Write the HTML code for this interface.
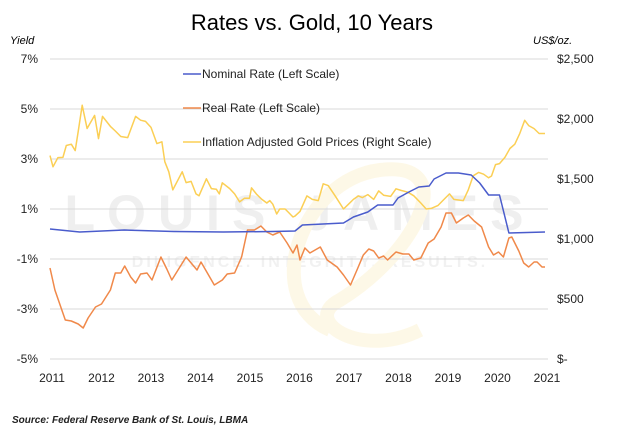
<!DOCTYPE html>
<html><head><meta charset="utf-8"><style>
body{margin:0;background:#fff;}
svg{display:block;font-family:"Liberation Sans",sans-serif;}
</style></head><body>
<svg id="c" width="624" height="435" viewBox="0 0 624 435">
<text x="312" y="30" text-anchor="middle" font-size="22" fill="#000">Rates vs. Gold, 10 Years</text>
<text x="10" y="44" font-size="11" font-style="italic" fill="#000">Yield</text>
<text x="533" y="44" font-size="11" font-style="italic" fill="#000">US$/oz.</text>
<g opacity="0.5">
<text x="300" y="230" text-anchor="middle" font-size="50" font-weight="bold" fill="#e0e0e0" letter-spacing="12">LOUIS JAMES</text>
<text x="310" y="267" text-anchor="middle" font-size="16" font-weight="bold" fill="#e4e4e4" letter-spacing="3">DILIGENCE. INTEGRITY. RESULTS.</text>
<path d="M330,330 C260,300 300,180 380,170 C460,160 420,250 340,300 C300,320 360,360 420,330" fill="none" stroke="#fdf3d0" stroke-width="14"/>
</g>
<g id="grid"></g>
<g id="axes"></g>
<g id="series"></g>
<g font-size="12" fill="#222">
<line x1="183" y1="74" x2="201" y2="74" stroke="#4a5ccc" stroke-width="1.5"/>
<text x="202" y="78">Nominal Rate (Left Scale)</text>
<line x1="183" y1="108" x2="201" y2="108" stroke="#f0894a" stroke-width="1.5"/>
<text x="202" y="112">Real Rate (Left Scale)</text>
<line x1="183" y1="142" x2="201" y2="142" stroke="#fbcf55" stroke-width="1.5"/>
<text x="202" y="146">Inflation Adjusted Gold Prices (Right Scale)</text>
</g>
<text x="12" y="423" font-size="10" font-style="italic" font-weight="bold" fill="#222">Source: Federal Reserve Bank of St. Louis, LBMA</text>
</svg>
<script>
const leftTicks=[7,5,3,1,-1,-3,-5];
const leftTickLabels=["7%","5%","3%","1%","-1%","-3%","-5%"];
const rightTicks=[2500,2000,1500,1000,500,0];
const rightTickLabels=["$2,500","$2,000","$1,500","$1,000","$500","$-"];
const yearTicks=[2011,2012,2013,2014,2015,2016,2017,2018,2019,2020,2021];
const goldDates=[2011.0,2011.06,2011.16,2011.26,2011.33,2011.43,2011.51,2011.57,2011.65,2011.75,2011.90,2011.98,2012.06,2012.22,2012.32,2012.43,2012.57,2012.73,2012.83,2012.93,2013.04,2013.16,2013.26,2013.32,2013.40,2013.48,2013.67,2013.75,2013.85,2013.95,2014.01,2014.16,2014.26,2014.36,2014.42,2014.48,2014.63,2014.73,2014.83,2014.93,2015.03,2015.07,2015.18,2015.28,2015.38,2015.44,2015.50,2015.58,2015.64,2015.75,2015.81,2015.91,2015.95,2016.05,2016.19,2016.30,2016.42,2016.52,2016.62,2016.76,2016.93,2017.03,2017.13,2017.23,2017.31,2017.42,2017.54,2017.64,2017.74,2017.88,2017.99,2018.09,2018.23,2018.35,2018.49,2018.60,2018.70,2018.84,2018.96,2019.07,2019.16,2019.35,2019.45,2019.55,2019.66,2019.76,2019.86,2019.92,2020.00,2020.08,2020.19,2020.29,2020.39,2020.49,2020.59,2020.67,2020.78,2020.88,2021.0];
const goldValues=[1695,1602,1678,1680,1779,1790,1737,1896,2114,1921,2030,1837,2022,1938,1900,1854,1845,2022,1990,1980,1930,1795,1810,1644,1560,1409,1560,1470,1480,1376,1360,1502,1420,1415,1376,1468,1420,1376,1309,1340,1340,1426,1370,1330,1300,1320,1290,1208,1250,1250,1225,1183,1191,1230,1359,1330,1320,1460,1445,1360,1250,1290,1330,1359,1345,1370,1330,1401,1365,1355,1418,1405,1390,1360,1300,1250,1255,1280,1330,1376,1330,1320,1410,1527,1555,1540,1510,1525,1620,1628,1680,1754,1790,1880,1989,1945,1920,1879,1879];
const nominalDates=[2011.0,2011.6,2012.5,2013.5,2014.5,2015.5,2015.95,2016.1,2016.93,2017.13,2017.42,2017.62,2017.93,2018.03,2018.25,2018.45,2018.66,2018.76,2019.0,2019.25,2019.51,2019.68,2019.86,2020.08,2020.27,2021.0];
const nominalValues=[0.2,0.08,0.16,0.1,0.08,0.1,0.12,0.36,0.44,0.68,0.88,1.16,1.16,1.44,1.68,1.88,1.92,2.2,2.44,2.44,2.36,2.04,1.56,1.56,0.04,0.08];
const realDates=[2011.0,2011.10,2011.31,2011.43,2011.57,2011.67,2011.77,2011.92,2012.04,2012.22,2012.32,2012.43,2012.51,2012.63,2012.73,2012.83,2012.96,2013.06,2013.24,2013.36,2013.46,2013.75,2013.97,2014.05,2014.32,2014.48,2014.58,2014.73,2014.87,2014.99,2015.13,2015.26,2015.38,2015.50,2015.64,2015.79,2015.91,2015.99,2016.05,2016.15,2016.25,2016.46,2016.60,2016.80,2016.93,2017.07,2017.21,2017.33,2017.44,2017.54,2017.64,2017.74,2017.82,2017.99,2018.13,2018.25,2018.35,2018.49,2018.64,2018.76,2018.90,2019.0,2019.11,2019.21,2019.35,2019.45,2019.57,2019.72,2019.86,2019.96,2020.06,2020.16,2020.27,2020.33,2020.47,2020.57,2020.67,2020.78,2020.84,2020.94,2021.0];
const realValues=[-1.36,-2.24,-3.44,-3.48,-3.6,-3.76,-3.36,-2.92,-2.8,-2.24,-1.56,-1.56,-1.28,-1.72,-1.96,-1.6,-1.56,-1.84,-0.92,-1.4,-1.84,-0.92,-1.44,-1.12,-2.04,-1.84,-1.6,-1.56,-0.92,0.16,0.16,0.32,0.08,-0.04,0.08,-0.36,-0.76,-0.44,-1.04,-0.56,-0.76,-0.52,-1.04,-1.32,-1.64,-2.04,-1.4,-0.84,-0.6,-0.68,-0.96,-0.88,-1.04,-0.72,-0.8,-0.8,-1.04,-0.96,-0.36,-0.2,0.28,0.84,0.84,0.44,0.64,0.76,0.52,0.28,-0.52,-0.84,-0.72,-0.92,-0.16,-0.12,-0.68,-1.16,-1.32,-1.12,-1.12,-1.32,-1.32];

const NS='http://www.w3.org/2000/svg';
const X0=50,X1=545,PL=50,PR=548,YT=59,YB=359;
function xs(t){return X0+(t-2011)/10*(X1-X0);}
function yl(v){return YB-(v+5)/12*(YB-YT);}
function yr(g){return YB-g/2500*(YB-YT);}
function mk(tag,attrs,parent){const e=document.createElementNS(NS,tag);for(const k in attrs)e.setAttribute(k,attrs[k]);parent.appendChild(e);return e;}
const grid=document.getElementById('grid'),axes=document.getElementById('axes'),series=document.getElementById('series');
leftTicks.forEach((v,i)=>{
  const l=mk('line',{x1:PL,x2:PR,y1:yl(v),y2:yl(v),stroke:'#d9d9d9','stroke-width':1},grid);
  
  
  const t=mk('text',{x:38,y:yl(v)+4,'text-anchor':'end','font-size':12,fill:'#222'},axes);
  t.textContent=leftTickLabels[i];
  
  
});
rightTicks.forEach((g,i)=>{
  const t=mk('text',{x:557,y:yr(g)+4,'font-size':12,fill:'#222'},axes);
  t.textContent=rightTickLabels[i];
  
  
});
yearTicks.forEach(y=>{
  const t=mk('text',{x:xs(y)+2,y:382,'text-anchor':'middle','font-size':12,fill:'#222'},axes);
  t.textContent=String(y);
  
  
});
function line(dates,vals,yf,color,name){
  const d=dates.map((t,i)=>(i?'L':'M')+xs(t).toFixed(1)+','+yf(vals[i]).toFixed(1)).join(' ');
  const p=mk('path',{d:d,fill:'none',stroke:color,'stroke-width':1.5,'stroke-linejoin':'round'},series);
  
  
}
line(goldDates,goldValues,yr,'#fbcf55','gold-price-line');
line(realDates,realValues,yl,'#f0894a','real-rate-line');
line(nominalDates,nominalValues,yl,'#4a5ccc','nominal-rate-line');
</script>
</body></html>
